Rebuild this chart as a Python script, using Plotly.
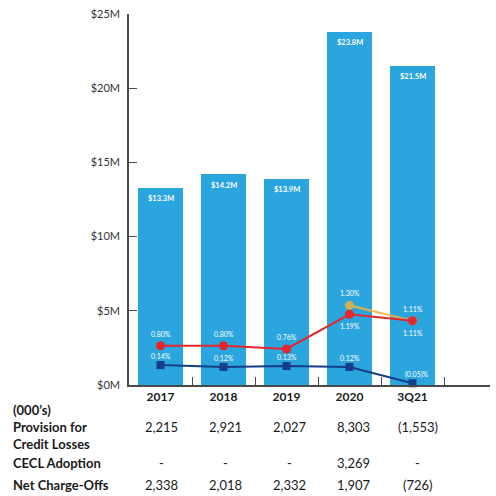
import plotly.graph_objects as go

# Allowance for credit losses, yearly
periods = ["2017", "2018", "2019", "2020", "3Q21"]
allowance_m = [13.3, 14.2, 13.9, 23.8, 21.5]

# Ratios (%)
allowance_ratio = [0.80, 0.80, 0.76, 1.19, 1.11]
allowance_ratio_ex = [None, None, None, 1.30, 1.11]
nco_ratio = [0.14, 0.12, 0.13, 0.12, -0.05]

# Table below the chart (000's)
provision = ["2,215", "2,921", "2,027", "8,303", "(1,553)"]
cecl = ["-", "-", "-", "3,269", "-"]
net_chargeoffs = ["2,338", "2,018", "2,332", "1,907", "(726)"]

y_ticks = [0, 5, 10, 15, 20, 25]

BAR = "#2BA5DE"
RED = "#E4262D"
ORANGE = "#F2B33D"
NAVY = "#163D8A"
AXIS = "#4a4a4a"
FONT = "Lato"

xs = list(range(len(periods)))

# plot area geometry (pixels)
L, R, T, B = 129, 6, 14, 111
PW, PH = 496 - L - R, 496 - T - B


def px(x):
    return (x - L) / PW


def py(y):
    return (496 - B - y) / PH


def pct(v):
    return f"({abs(v):.2f})%" if v < 0 else f"{v:.2f}%"


fig = go.Figure()

fig.add_trace(go.Bar(
    x=xs, y=allowance_m, width=0.71, marker=dict(color=BAR, line=dict(width=0)),
    hoverinfo="skip", showlegend=False,
))

fig.add_trace(go.Scatter(
    x=xs, y=allowance_ratio_ex, yaxis="y2", mode="lines+markers",
    line=dict(color=ORANGE, width=2.2), opacity=0.85,
    marker=dict(symbol="circle", size=9, color=ORANGE),
    showlegend=False, hoverinfo="skip", cliponaxis=False,
))
fig.add_trace(go.Scatter(
    x=xs, y=allowance_ratio, yaxis="y2", mode="lines+markers",
    line=dict(color=RED, width=2), marker=dict(symbol="circle", size=9, color=RED),
    showlegend=False, hoverinfo="skip", cliponaxis=False,
))
fig.add_trace(go.Scatter(
    x=xs, y=nco_ratio, yaxis="y3", mode="lines+markers",
    line=dict(color=NAVY, width=2), marker=dict(symbol="square", size=8, color=NAVY),
    showlegend=False, hoverinfo="skip", cliponaxis=False,
))

annotations = []
lab_font = dict(family=FONT, size=7, color="white")

# bar value labels, just under each bar top
for i, v in enumerate(allowance_m):
    annotations.append(dict(x=i, y=v, xref="x", yref="y", text=f"${v:.1f}M", showarrow=False,
                            yanchor="middle", yshift=-11,
                            font=dict(family=FONT, size=7.5, color="white", weight="bold")))

# ratio labels
for i, v in enumerate(allowance_ratio):
    shift = -12 if i >= 3 else 12
    annotations.append(dict(x=i, y=v, xref="x", yref="y2", text=pct(v), showarrow=False,
                            yshift=shift, font=lab_font))
for i, v in enumerate(allowance_ratio_ex):
    if v is None:
        continue
    annotations.append(dict(x=i, y=v, xref="x", yref="y2", text=pct(v), showarrow=False,
                            yshift=12, font=lab_font))
for i, v in enumerate(nco_ratio):
    annotations.append(dict(x=i, y=v, xref="x", yref="y3", text=pct(v), showarrow=False,
                            yshift=9, xshift=4 if v < 0 else 0, font=lab_font))

# table beneath the axis
row_font = dict(family=FONT, size=13, color="#1a1a1a", weight="bold")
val_font = dict(family=FONT, size=13, color="#1a1a1a")
for text, y in (("(000’s)", 410), ("Provision for", 427), ("Credit Losses", 444),
                ("CECL Adoption", 463), ("Net Charge-Offs", 485)):
    annotations.append(dict(x=px(11), y=py(y), xref="paper", yref="paper", xanchor="left",
                            yanchor="middle", showarrow=False, text=text, font=row_font))
for row, y in ((provision, 427), (cecl, 463), (net_chargeoffs, 485)):
    for i, t in enumerate(row):
        annotations.append(dict(x=i, y=py(y), xref="x", yref="paper", text=t,
                                showarrow=False, yanchor="middle", xshift=1 + i,
                                font=val_font))

fig.update_layout(
    width=496, height=496, autosize=False,
    margin=dict(l=L, r=R, t=T, b=B),
    paper_bgcolor="white", plot_bgcolor="white",
    bargap=0,
    xaxis=dict(
        range=[-0.5, 5.23], tickvals=xs, ticktext=periods, ticks="", showgrid=False,
        zeroline=False, showline=True, linecolor=AXIS, linewidth=1.5,
        tickfont=dict(family=FONT, size=12, color="#1a1a1a", weight="bold"),
        minor=dict(tickvals=[0.5, 1.5, 2.5, 3.5, 4.5], ticks="inside", ticklen=8,
                   tickcolor=AXIS, tickwidth=1.3, showgrid=False),
    ),
    yaxis=dict(
        range=[0, 25], tickvals=y_ticks, ticktext=[f"${v}M" for v in y_ticks],
        ticks="inside", ticklen=8, tickcolor=AXIS, tickwidth=1.3, showgrid=False,
        zeroline=False, showline=True, linecolor=AXIS, linewidth=1.5,
        tickfont=dict(family=FONT, size=11, color="#333"), ticklabelstandoff=5,
    ),
    yaxis2=dict(range=[0.3135, 4.911], overlaying="y", visible=False),
    yaxis3=dict(range=[-0.068, 3.797], overlaying="y", visible=False),
    annotations=annotations,
)

fig.write_html("out.html")
